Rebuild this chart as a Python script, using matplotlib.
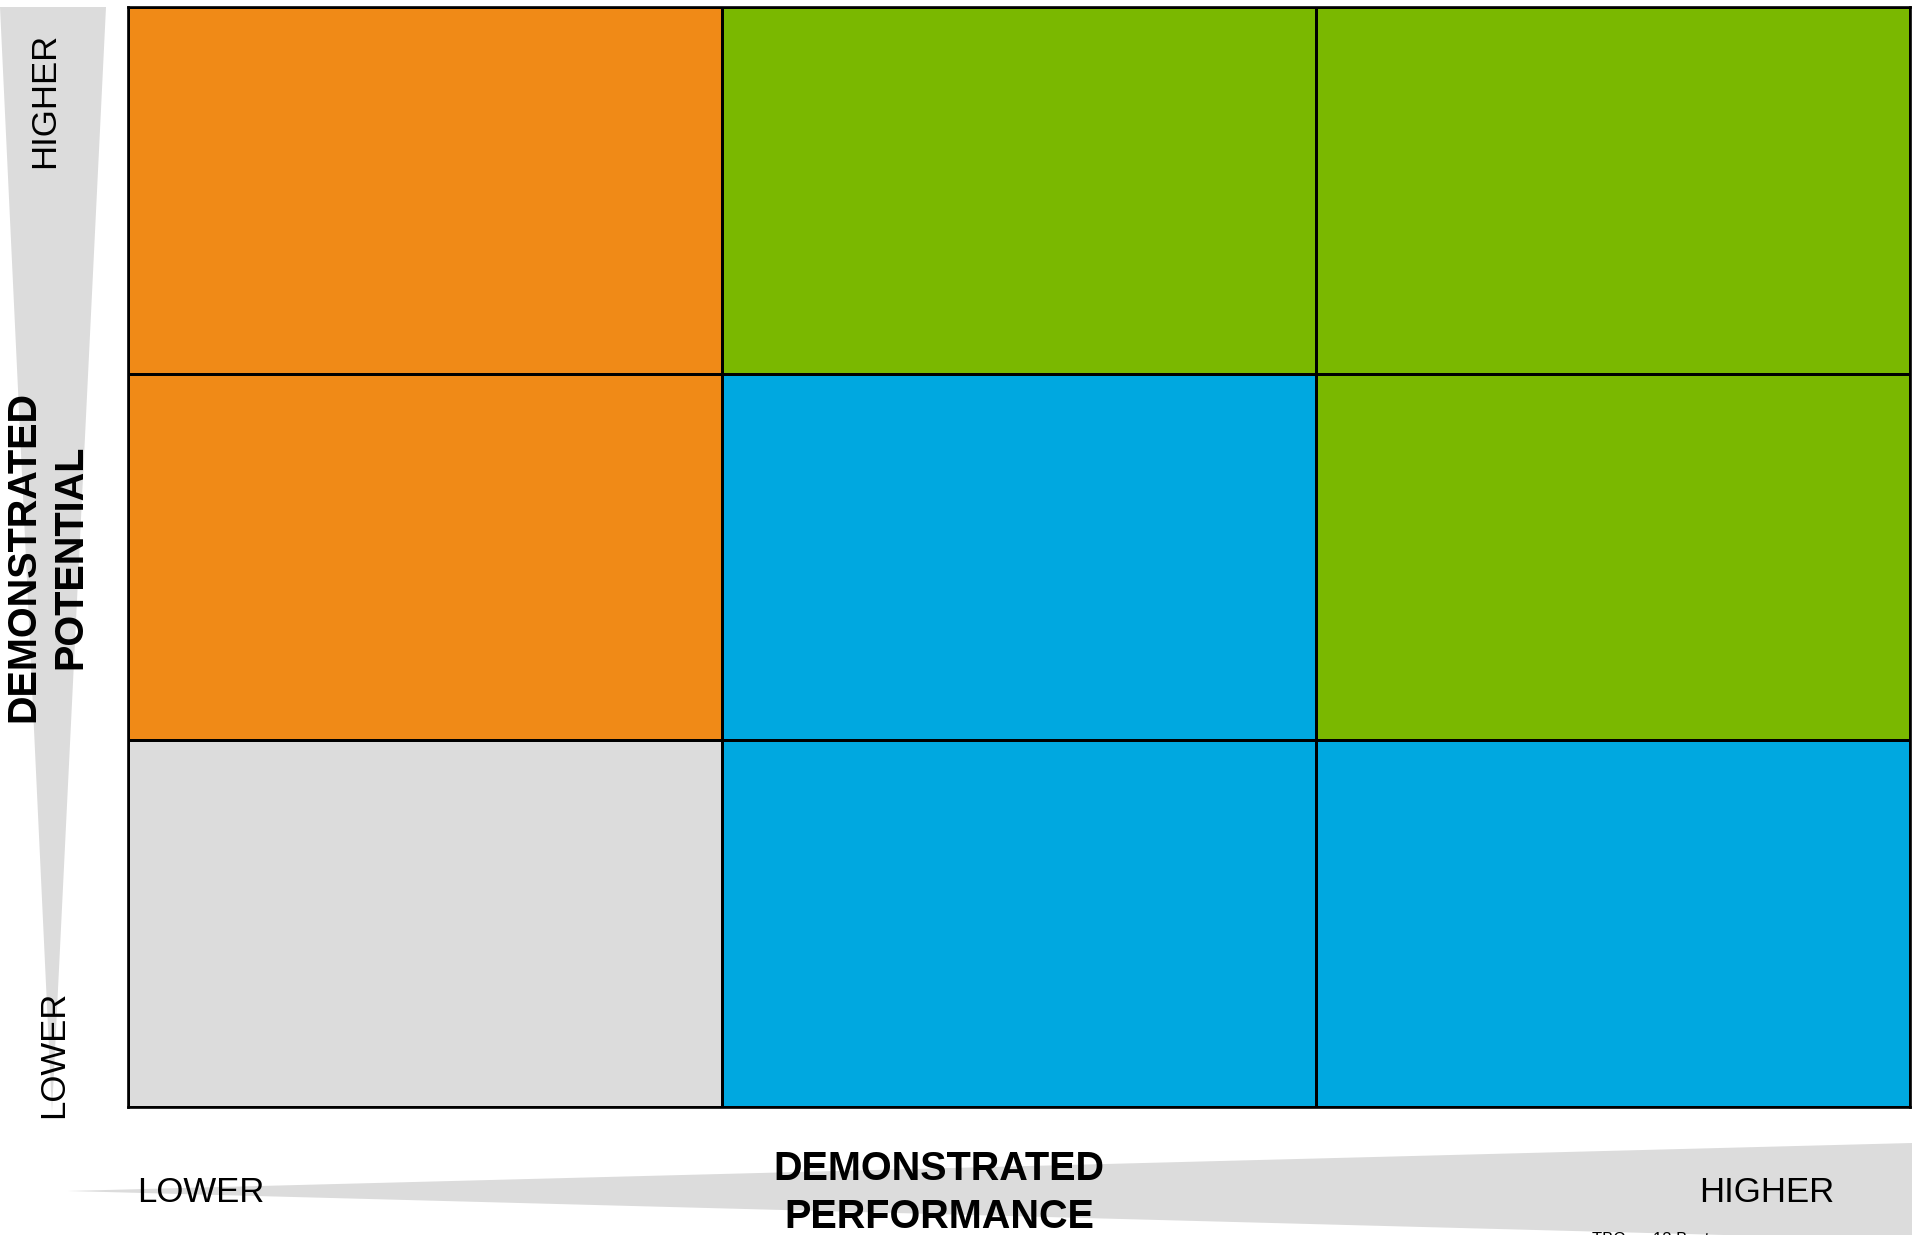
import matplotlib
matplotlib.use("Agg")
import matplotlib.pyplot as plt
from matplotlib.colors import ListedColormap
from matplotlib.patches import Polygon
import numpy as np

plt.rcParams['font.family'] = ['Liberation Sans', 'DejaVu Sans']

# ---- data ----
performance_levels = ["LOWER", "MODERATE", "HIGHER"]   # x axis (left -> right)
potential_levels = ["HIGHER", "MODERATE", "LOWER"]     # y axis (top -> bottom)
category_names = ["Develop", "Grow", "Stretch", "Review"]
category_colors = ["#F08A17", "#7AB800", "#00A8E0", "#DCDCDC"]
# grid cells, rows from top (higher potential) to bottom
cell_category = [
    [0, 1, 1],
    [0, 2, 1],
    [3, 2, 2],
]
x_axis_title = "DEMONSTRATED\nPERFORMANCE"
y_axis_title = "DEMONSTRATED\nPOTENTIAL"
axis_low, axis_high = "LOWER", "HIGHER"
footer_text = "TBC      13 Best"

W, H = 1912, 1235
fig = plt.figure(figsize=(W / 100, H / 100), dpi=100)

# background overlay axes in pixel coordinates
bg = fig.add_axes([0, 0, 1, 1])
bg.set_xlim(0, W)
bg.set_ylim(H, 0)
bg.axis("off")

wedge_color = "#DCDCDC"
bg.add_patch(Polygon([(0, 7), (106, 7), (52, 1112)], closed=True,
                     facecolor=wedge_color, edgecolor="none"))
bg.add_patch(Polygon([(68, 1191), (W, 1143), (W, 1240)], closed=True,
                     facecolor=wedge_color, edgecolor="none"))

# grid axes
gx0, gx1, gy0, gy1 = 128, 1910, 7, 1107
ax = fig.add_axes([gx0 / W, 1 - gy1 / H, (gx1 - gx0) / W, (gy1 - gy0) / H])
grid = np.array(cell_category)
cmap = ListedColormap(category_colors)
ax.pcolormesh(np.arange(len(performance_levels) + 1),
              np.arange(len(potential_levels) + 1),
              grid, cmap=cmap, vmin=-0.5, vmax=len(category_colors) - 0.5,
              edgecolors="black", linewidth=1.8)
ax.set_xlim(0, len(performance_levels))
ax.set_ylim(len(potential_levels), 0)
ax.set_xticks([])
ax.set_yticks([])
for s in ax.spines.values():
    s.set_linewidth(1.9)
    s.set_color("black")

# labels
fs = 25
bg.text(45, 100, axis_high, rotation=90, ha="center", va="center", fontsize=fs)
bg.text(54, 1054, axis_low, rotation=90, ha="center", va="center", fontsize=fs)
bg.text(47, 557, y_axis_title, rotation=90, ha="center", va="center",
        fontsize=28.5, fontweight="bold", linespacing=1.3, multialignment="center")

bg.text(201, 1192, axis_low, ha="center", va="center", fontsize=fs)
bg.text(1767, 1192, axis_high, ha="center", va="center", fontsize=fs)
bg.text(939, 1193, x_axis_title, ha="center", va="center",
        fontsize=28.5, fontweight="bold", linespacing=1.3, multialignment="center")

bg.text(1592, 1232, footer_text, ha="left", va="top", fontsize=12)

fig.savefig("out.png", dpi=100)
